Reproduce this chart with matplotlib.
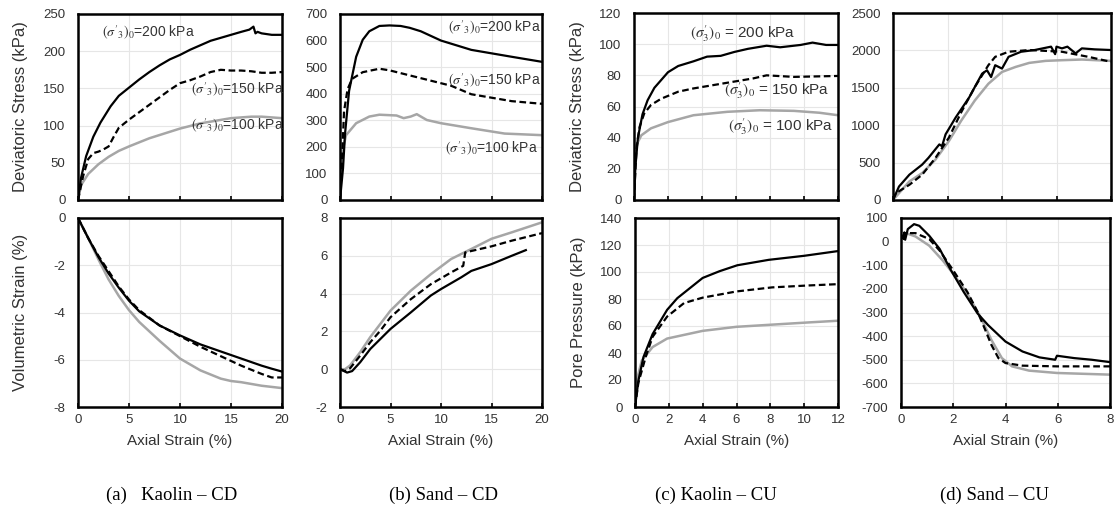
import matplotlib
matplotlib.use("Agg")
import matplotlib.pyplot as plt

plt.rcParams['font.family'] = ['Liberation Sans', 'DejaVu Sans']
plt.rcParams['mathtext.fontset'] = 'stix'
plt.rcParams['axes.unicode_minus'] = False

W, H = 1115, 522
GRAY = '#a6a6a6'
TXT = '#333333'

# ---- (a) Kaolin CD ----
a_dev_200_x = [0, 0.3, 0.8, 1.5, 2.2, 3.2, 4, 5, 6, 7, 8, 9, 10, 11, 12, 13, 14, 15, 16, 16.8, 17.2, 17.4, 17.6, 18, 19, 20]
a_dev_200_y = [0, 30, 59, 85, 104, 126, 140, 151, 162, 172, 181, 189, 195, 202, 208, 214, 218, 222, 226, 229, 233, 224, 226, 224, 222, 222]
a_dev_150_x = [0, 0.5, 1, 1.5, 2, 2.5, 3, 3.5, 4, 5, 6, 7, 8, 9, 10, 11, 12, 13, 14, 15, 16, 17, 18, 19, 20]
a_dev_150_y = [0, 32, 55, 63, 65, 68, 72, 85, 97, 108, 118, 128, 138, 148, 157, 161, 166, 172, 175, 174, 174, 173, 171, 171, 172]
a_dev_100_x = [0, 0.3, 1, 2, 3, 4, 5, 7, 10, 12, 15, 17, 18, 20]
a_dev_100_y = [0, 20, 35, 48, 58, 66, 72, 83, 96, 103, 110, 112, 112, 110]

a_vol_x = [0, 1, 2, 3, 4, 5, 6, 8, 10, 12, 14, 15, 16, 18, 19, 20]
a_vol_200 = [0, -0.85, -1.65, -2.35, -2.95, -3.5, -3.95, -4.55, -4.97, -5.35, -5.65, -5.8, -5.95, -6.25, -6.38, -6.5]
a_vol_150 = [0, -0.85, -1.6, -2.25, -2.9, -3.45, -3.9, -4.55, -5.0, -5.45, -5.85, -6.05, -6.25, -6.6, -6.75, -6.75]
a_vol_100 = [0, -0.85, -1.75, -2.6, -3.3, -3.9, -4.4, -5.2, -5.95, -6.45, -6.8, -6.9, -6.95, -7.1, -7.15, -7.2]

# ---- (b) Sand CD ----
b_dev_200_x = [0, 0.3, 0.5, 0.9, 1.6, 2.25, 2.9, 3.9, 4.9, 6, 6.9, 8, 10, 13, 15, 17, 20]
b_dev_200_y = [0, 120, 250, 411, 539, 603, 635, 655, 657, 655, 648, 635, 600, 565, 552, 539, 520]
b_dev_150_x = [0, 0.2, 0.4, 0.75, 1.2, 2.25, 3.9, 4.9, 7, 9, 11, 13, 15, 17, 20]
b_dev_150_y = [0, 150, 334, 417, 456, 481, 494, 488, 468, 449, 430, 398, 385, 372, 362]
b_dev_100_x = [0, 0.1, 0.3, 0.6, 1.6, 2.9, 3.9, 5.6, 6.3, 7, 7.6, 8.6, 10, 13, 16.3, 20]
b_dev_100_y = [0, 120, 193, 244, 289, 314, 321, 318, 308, 314, 323, 301, 289, 270, 250, 244]

b_vol_200_x = [0, 0.4, 0.7, 1.2, 2, 3, 4, 5, 7, 9, 10, 12, 13, 15, 17, 18.4]
b_vol_200_y = [0, -0.1, -0.18, -0.1, 0.37, 1.07, 1.6, 2.13, 3.0, 3.9, 4.24, 4.86, 5.2, 5.56, 6.0, 6.3]
b_vol_150_x = [0, 0.5, 1, 2, 3, 4, 5, 7, 9, 11, 12.2, 12.4, 15, 17, 20]
b_vol_150_y = [0, -0.1, 0.05, 0.72, 1.43, 2.04, 2.75, 3.7, 4.5, 5.12, 5.47, 6.18, 6.5, 6.8, 7.2]
b_vol_100_x = [0, 0.5, 1, 2, 3, 4, 5, 7, 9, 11, 13, 15, 17, 20]
b_vol_100_y = [0, 0.0, 0.2, 0.9, 1.7, 2.4, 3.1, 4.15, 5.03, 5.83, 6.36, 6.9, 7.24, 7.77]

# ---- (c) Kaolin CU ----
c_dev_200_x = [0, 0.08, 0.23, 0.5, 0.8, 1.2, 1.6, 2, 2.6, 3.5, 4.3, 5.1, 5.9, 6.7, 7.8, 8.6, 9.8, 10.5, 11.3, 12]
c_dev_200_y = [0, 21, 40, 55, 64, 72, 77, 82, 86, 89, 92, 92.5, 95, 97, 99, 98, 99.5, 101, 99.5, 99.5]
c_dev_150_x = [0, 0.14, 0.33, 0.6, 1.0, 1.6, 2.6, 3.5, 4.7, 5.9, 7, 7.8, 9.4, 12]
c_dev_150_y = [0, 32, 47, 55.5, 61, 65, 69.5, 71.6, 73.8, 76, 78, 80, 79, 79.6]
c_dev_100_x = [0, 0.08, 0.43, 1.0, 2, 3.5, 5.5, 7.4, 9.4, 10.9, 12]
c_dev_100_y = [0, 34, 41.5, 46, 50, 54.4, 56.6, 57.6, 57.2, 56, 54.4]

c_pp_200_x = [0, 0.2, 0.5, 1.04, 1.9, 2.5, 4, 5, 6.05, 7.9, 10, 12]
c_pp_200_y = [0, 19.5, 37, 54, 72, 80.6, 95.6, 100.6, 105, 109, 112, 115.5]
c_pp_150_x = [0, 0.2, 0.63, 1.04, 1.9, 2.9, 4, 6, 8.1, 10.2, 12]
c_pp_150_y = [0, 18, 37, 52, 67, 77, 81, 85.6, 88.6, 90, 91]
c_pp_100_x = [0, 0.1, 0.4, 1.04, 1.9, 4, 6, 8.1, 10.2, 12]
c_pp_100_y = [0, 19.5, 34.4, 44.4, 50.7, 56.4, 59.4, 61, 62.6, 63.9]

# ---- (d) Sand CU ----
d_dev_200_x = [0, 0.22, 0.6, 1.07, 1.3, 1.7, 1.8, 1.93, 2.3, 2.8, 3.0, 3.27, 3.45, 3.6, 3.75, 4.0, 4.24, 4.7, 5.2, 5.8, 5.95, 6.0, 6.2, 6.4, 6.7, 6.93, 7.4, 8]
d_dev_200_y = [0, 180, 338, 473, 563, 743, 720, 878, 1103, 1374, 1509, 1689, 1734, 1644, 1802, 1757, 1914, 1982, 2005, 2050, 1950, 2050, 2027, 2050, 1960, 2027, 2014, 2005]
d_dev_150_x = [0, 0.1, 0.6, 1.07, 1.56, 2.05, 2.5, 3, 3.5, 3.75, 4.24, 5, 6.2, 7.17, 8]
d_dev_150_y = [0, 90, 203, 338, 563, 833, 1171, 1509, 1802, 1914, 1982, 2005, 1982, 1914, 1847]
d_dev_100_x = [0, 0.6, 1.07, 1.56, 2.05, 2.5, 3, 3.5, 4, 4.5, 5, 5.6, 6.2, 6.93, 8]
d_dev_100_y = [0, 248, 360, 541, 788, 1059, 1329, 1554, 1712, 1779, 1833, 1860, 1869, 1878, 1860]

d_pp_200_x = [0.05, 0.1, 0.13, 0.16, 0.26, 0.5, 0.7, 1.08, 1.48, 1.88, 2.4, 2.93, 3.33, 4, 4.65, 5.3, 5.9, 5.97, 6.63, 7.3, 8]
d_pp_200_y = [20, 11, 39, 8, 53, 74, 67, 25, -31, -115, -213, -304, -353, -423, -465, -490, -500, -483, -493, -500, -510]
d_pp_150_x = [0.03, 0.16, 0.55, 1.08, 1.48, 2, 2.54, 2.93, 3.2, 3.46, 3.73, 4, 4.65, 5.97, 8]
d_pp_150_y = [18, 36, 36, 11, -38, -122, -213, -297, -367, -437, -493, -514, -525, -528, -528]
d_pp_100_x = [0.03, 0.22, 0.55, 1.08, 1.6, 2, 2.54, 3.07, 3.46, 3.86, 4.25, 4.9, 5.97, 8]
d_pp_100_y = [25, 35, 22, -17, -80, -136, -220, -325, -416, -493, -528, -546, -556, -563]


def rect(l, t, r, b):
    return [l / W, 1 - b / H, (r - l) / W, (b - t) / H]


def style(ax, xlim, xstep, ylim, ystep, xlabels=True):
    ax.set_xlim(xlim)
    ax.set_ylim(ylim)
    ax.set_xticks(range(xlim[0], xlim[1] + 1, xstep))
    ax.set_yticks(range(ylim[0], ylim[1] + 1, ystep))
    ax.grid(True, color='#e6e6e6', lw=0.8)
    ax.set_axisbelow(True)
    for s in ax.spines.values():
        s.set_linewidth(1.8)
    ax.tick_params(direction='in', length=3, width=1.2, labelsize=9.5, labelcolor=TXT, pad=5)
    ax.tick_params(axis='y', length=0, pad=9)
    if not xlabels:
        ax.tick_params(labelbottom=False)
    else:
        ax.set_xlabel('Axial Strain (%)', fontsize=11, labelpad=6, color=TXT)


def ylab(ax, text, xpos):
    ax.set_ylabel(text, fontsize=12, color=TXT)
    ax.yaxis.set_label_coords(xpos, 0.5)


def curves(ax, black, dashed, gray):
    ax.plot(*gray, color=GRAY, lw=1.8)
    ax.plot(*dashed, color='black', lw=1.6, ls=(0, (3, 1.6)))
    ax.plot(*black, color='black', lw=1.6)


fig = plt.figure(figsize=(W / 100, H / 100), dpi=100)

ax = fig.add_axes(rect(78, 14, 282, 200))
style(ax, (0, 20), 5, (0, 250), 50, xlabels=False)
curves(ax, (a_dev_200_x, a_dev_200_y), (a_dev_150_x, a_dev_150_y), (a_dev_100_x, a_dev_100_y))
ylab(ax, 'Deviatoric Stress (kPa)', -0.245)
ax.text(2.4, 218, r"$(\sigma'_3)_0$=200 kPa", fontsize=10, color=TXT)
ax.text(20.2, 148, r"$(\sigma'_3)_0$=150 kPa", fontsize=10, ha='right', va='center', color=TXT)
ax.text(20.2, 99, r"$(\sigma'_3)_0$=100 kPa", fontsize=10, ha='right', va='center', color=TXT)

ax = fig.add_axes(rect(78, 218, 282, 407))
style(ax, (0, 20), 5, (-8, 0), 2)
curves(ax, (a_vol_x, a_vol_200), (a_vol_x, a_vol_150), (a_vol_x, a_vol_100))
ylab(ax, 'Volumetric Strain (%)', -0.245)

ax = fig.add_axes(rect(340, 14, 542, 200))
style(ax, (0, 20), 5, (0, 700), 100, xlabels=False)
curves(ax, (b_dev_200_x, b_dev_200_y), (b_dev_150_x, b_dev_150_y), (b_dev_100_x, b_dev_100_y))
ax.text(19.9, 648, r"$(\sigma'_3)_0$=200 kPa", fontsize=10, ha='right', va='center', color=TXT)
ax.text(19.9, 449, r"$(\sigma'_3)_0$=150 kPa", fontsize=10, ha='right', va='center', color=TXT)
ax.text(19.6, 193, r"$(\sigma'_3)_0$=100 kPa", fontsize=10, ha='right', va='center', color=TXT)

ax = fig.add_axes(rect(340, 218, 542, 407))
style(ax, (0, 20), 5, (-2, 8), 2)
curves(ax, (b_vol_200_x, b_vol_200_y), (b_vol_150_x, b_vol_150_y), (b_vol_100_x, b_vol_100_y))

ax = fig.add_axes(rect(634, 13, 838, 200))
style(ax, (0, 12), 2, (0, 120), 20, xlabels=False)
curves(ax, (c_dev_200_x, c_dev_200_y), (c_dev_150_x, c_dev_150_y), (c_dev_100_x, c_dev_100_y))
ylab(ax, 'Deviatoric Stress (kPa)', -0.24)
ax.text(6.4, 107, r"$(\sigma_3')_0$ = 200 kPa", fontsize=11, ha='center', va='center', color=TXT)
ax.text(11.5, 70.5, r"$(\sigma_3')_0$ = 150 kPa", fontsize=11, ha='right', va='center', color=TXT)
ax.text(11.7, 47, r"$(\sigma_3')_0$ = 100 kPa", fontsize=11, ha='right', va='center', color=TXT)

ax = fig.add_axes(rect(635, 218, 838, 407))
style(ax, (0, 12), 2, (0, 140), 20)
curves(ax, (c_pp_200_x, c_pp_200_y), (c_pp_150_x, c_pp_150_y), (c_pp_100_x, c_pp_100_y))
ylab(ax, 'Pore Pressure (kPa)', -0.24)

ax = fig.add_axes(rect(893, 13, 1111, 200))
style(ax, (0, 8), 2, (0, 2500), 500, xlabels=False)
curves(ax, (d_dev_200_x, d_dev_200_y), (d_dev_150_x, d_dev_150_y), (d_dev_100_x, d_dev_100_y))

ax = fig.add_axes(rect(901, 218, 1110, 407))
style(ax, (0, 8), 2, (-700, 100), 100)
curves(ax, (d_pp_200_x, d_pp_200_y), (d_pp_150_x, d_pp_150_y), (d_pp_100_x, d_pp_100_y))

captions = ['(a)   Kaolin \u2013 CD', '(b) Sand \u2013 CD', '(c) Kaolin \u2013 CU', '(d) Sand \u2013 CU']
cap_x = [172, 443, 716, 995]
for cx, cap in zip(cap_x, captions):
    fig.text(cx / W, 1 - 495 / H, cap, fontsize=13.5, ha='center', va='center',
             family=['Liberation Serif', 'DejaVu Serif'])

fig.savefig('out.png', dpi=100)
